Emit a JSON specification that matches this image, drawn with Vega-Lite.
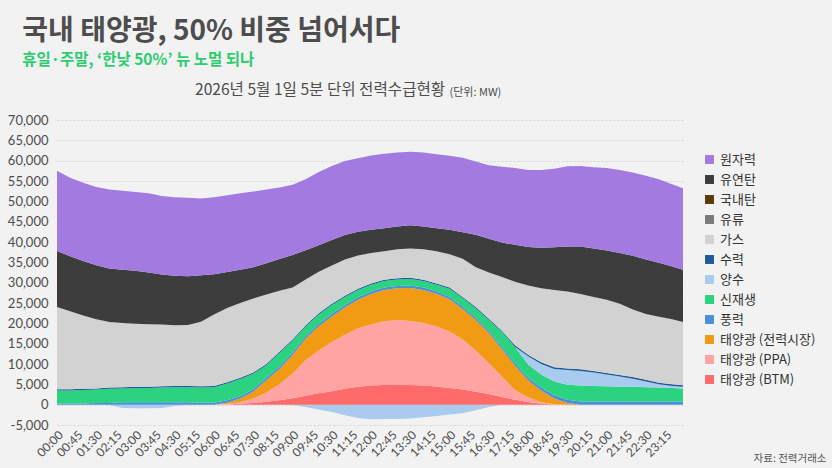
{
  "$schema": "https://vega.github.io/schema/vega-lite/v6.json",
  "background": "#f2f2f2",
  "padding": {"left": 7, "top": 18, "right": 10, "bottom": 10},
  "title": {
    "text": "국내 태양광, 50% 비중 넘어서다",
    "subtitle": "휴일·주말, ‘한낮 50%’ 뉴 노멀 되나",
    "anchor": "start",
    "frame": "bounds",
    "dx": 15,
    "font": "Noto Sans CJK KR",
    "fontSize": 28,
    "fontWeight": "bold",
    "color": "#4d4d4d",
    "subtitleFont": "Noto Sans CJK KR",
    "subtitleFontSize": 15.5,
    "subtitleFontWeight": "bold",
    "subtitleColor": "#2ecc71",
    "subtitlePadding": 7,
    "offset": 14.5
  },
  "datasets": {
    "series": [
      {"k": "psn", "name": "양수", "o": 0},
      {"k": "btm", "name": "태양광 (BTM)", "o": 1},
      {"k": "ppa", "name": "태양광 (PPA)", "o": 2},
      {"k": "mkt", "name": "태양광 (전력시장)", "o": 3},
      {"k": "wind", "name": "풍력", "o": 4},
      {"k": "ren", "name": "신재생", "o": 5},
      {"k": "ps", "name": "양수", "o": 6},
      {"k": "hyd", "name": "수력", "o": 7},
      {"k": "gas", "name": "가스", "o": 8},
      {"k": "oil", "name": "유류", "o": 9},
      {"k": "ant", "name": "국내탄", "o": 10},
      {"k": "coal", "name": "유연탄", "o": 11},
      {"k": "nuc", "name": "원자력", "o": 12}
    ],
    "power": [
      {"m": 0, "btm": 0, "ppa": 0, "mkt": 0, "wind": 300, "ren": 3200, "psn": 0, "ps": 0, "hyd": 300, "gas": 20200, "oil": 0, "ant": 0, "coal": 13800, "nuc": 19700},
      {"m": 30, "btm": 0, "ppa": 0, "mkt": 0, "wind": 300, "ren": 3200, "psn": 0, "ps": 0, "hyd": 300, "gas": 19200, "oil": 0, "ant": 0, "coal": 13500, "nuc": 19300},
      {"m": 60, "btm": 0, "ppa": 0, "mkt": 0, "wind": 300, "ren": 3300, "psn": 0, "ps": 0, "hyd": 300, "gas": 18000, "oil": 0, "ant": 0, "coal": 13400, "nuc": 19300},
      {"m": 90, "btm": 0, "ppa": 0, "mkt": 0, "wind": 400, "ren": 3300, "psn": 0, "ps": 0, "hyd": 300, "gas": 17000, "oil": 0, "ant": 0, "coal": 13300, "nuc": 19200},
      {"m": 120, "btm": 0, "ppa": 0, "mkt": 0, "wind": 400, "ren": 3500, "psn": -100, "ps": 0, "hyd": 300, "gas": 16100, "oil": 0, "ant": 0, "coal": 13200, "nuc": 19400},
      {"m": 150, "btm": 0, "ppa": 0, "mkt": 0, "wind": 600, "ren": 3400, "psn": -800, "ps": 0, "hyd": 300, "gas": 15800, "oil": 0, "ant": 0, "coal": 13100, "nuc": 19400},
      {"m": 180, "btm": 0, "ppa": 0, "mkt": 0, "wind": 600, "ren": 3500, "psn": -900, "ps": 0, "hyd": 300, "gas": 15500, "oil": 0, "ant": 0, "coal": 13000, "nuc": 19400},
      {"m": 210, "btm": 0, "ppa": 0, "mkt": 0, "wind": 600, "ren": 3500, "psn": -900, "ps": 0, "hyd": 300, "gas": 15400, "oil": 0, "ant": 0, "coal": 12700, "nuc": 19500},
      {"m": 240, "btm": 0, "ppa": 0, "mkt": 0, "wind": 600, "ren": 3600, "psn": -800, "ps": 0, "hyd": 300, "gas": 15200, "oil": 0, "ant": 0, "coal": 12300, "nuc": 19300},
      {"m": 270, "btm": 0, "ppa": 0, "mkt": 0, "wind": 600, "ren": 3700, "psn": -300, "ps": 0, "hyd": 300, "gas": 14900, "oil": 0, "ant": 0, "coal": 12200, "nuc": 19300},
      {"m": 300, "btm": 0, "ppa": 0, "mkt": 0, "wind": 600, "ren": 3700, "psn": 0, "ps": 0, "hyd": 300, "gas": 15000, "oil": 0, "ant": 0, "coal": 12000, "nuc": 19300},
      {"m": 330, "btm": 0, "ppa": 0, "mkt": 0, "wind": 500, "ren": 3700, "psn": 0, "ps": 0, "hyd": 300, "gas": 15900, "oil": 0, "ant": 0, "coal": 11400, "nuc": 18900},
      {"m": 360, "btm": 0, "ppa": 0, "mkt": 0, "wind": 500, "ren": 3800, "psn": 0, "ps": 0, "hyd": 300, "gas": 17600, "oil": 0, "ant": 0, "coal": 9900, "nuc": 18900},
      {"m": 390, "btm": 50, "ppa": 150, "mkt": 300, "wind": 600, "ren": 4100, "psn": 0, "ps": 0, "hyd": 300, "gas": 18300, "oil": 0, "ant": 0, "coal": 8800, "nuc": 18900},
      {"m": 420, "btm": 200, "ppa": 400, "mkt": 900, "wind": 600, "ren": 4200, "psn": 0, "ps": 0, "hyd": 300, "gas": 18400, "oil": 0, "ant": 0, "coal": 8200, "nuc": 18800},
      {"m": 450, "btm": 400, "ppa": 1100, "mkt": 1700, "wind": 600, "ren": 3800, "psn": 0, "ps": 0, "hyd": 300, "gas": 18200, "oil": 0, "ant": 0, "coal": 7700, "nuc": 18600},
      {"m": 480, "btm": 700, "ppa": 2300, "mkt": 3000, "wind": 600, "ren": 3100, "psn": 0, "ps": 0, "hyd": 300, "gas": 17100, "oil": 0, "ant": 0, "coal": 7700, "nuc": 18100},
      {"m": 510, "btm": 1100, "ppa": 3900, "mkt": 3800, "wind": 600, "ren": 3300, "psn": 0, "ps": 0, "hyd": 300, "gas": 15000, "oil": 0, "ant": 0, "coal": 7800, "nuc": 17600},
      {"m": 540, "btm": 1600, "ppa": 6000, "mkt": 4600, "wind": 600, "ren": 2900, "psn": -100, "ps": 0, "hyd": 300, "gas": 12800, "oil": 0, "ant": 0, "coal": 8000, "nuc": 17300},
      {"m": 570, "btm": 2200, "ppa": 8800, "mkt": 5300, "wind": 600, "ren": 2300, "psn": -600, "ps": 0, "hyd": 300, "gas": 11300, "oil": 0, "ant": 0, "coal": 7200, "nuc": 17400},
      {"m": 600, "btm": 2800, "ppa": 10500, "mkt": 6000, "wind": 600, "ren": 2300, "psn": -1200, "ps": 0, "hyd": 300, "gas": 10200, "oil": 0, "ant": 0, "coal": 6500, "nuc": 18000},
      {"m": 630, "btm": 3300, "ppa": 12100, "mkt": 6300, "wind": 600, "ren": 2200, "psn": -1800, "ps": 0, "hyd": 300, "gas": 9400, "oil": 0, "ant": 0, "coal": 6300, "nuc": 18200},
      {"m": 660, "btm": 3900, "ppa": 13300, "mkt": 6700, "wind": 600, "ren": 2000, "psn": -2600, "ps": 0, "hyd": 300, "gas": 8900, "oil": 0, "ant": 0, "coal": 6000, "nuc": 18200},
      {"m": 690, "btm": 4400, "ppa": 14400, "mkt": 7000, "wind": 600, "ren": 1800, "psn": -3300, "ps": 0, "hyd": 300, "gas": 8200, "oil": 0, "ant": 0, "coal": 5800, "nuc": 18100},
      {"m": 720, "btm": 4700, "ppa": 15000, "mkt": 7500, "wind": 600, "ren": 1700, "psn": -3600, "ps": 0, "hyd": 300, "gas": 7500, "oil": 0, "ant": 0, "coal": 5700, "nuc": 18300},
      {"m": 750, "btm": 4850, "ppa": 15650, "mkt": 7700, "wind": 600, "ren": 1600, "psn": -3500, "ps": 0, "hyd": 300, "gas": 7000, "oil": 0, "ant": 0, "coal": 5700, "nuc": 18300},
      {"m": 780, "btm": 4900, "ppa": 15900, "mkt": 7800, "wind": 600, "ren": 1600, "psn": -3500, "ps": 0, "hyd": 300, "gas": 7100, "oil": 0, "ant": 0, "coal": 5600, "nuc": 18200},
      {"m": 810, "btm": 4850, "ppa": 15750, "mkt": 8100, "wind": 600, "ren": 1600, "psn": -3400, "ps": 0, "hyd": 300, "gas": 7200, "oil": 0, "ant": 0, "coal": 5700, "nuc": 18100},
      {"m": 840, "btm": 4700, "ppa": 15400, "mkt": 8100, "wind": 600, "ren": 1600, "psn": -3100, "ps": 0, "hyd": 300, "gas": 7500, "oil": 0, "ant": 0, "coal": 5600, "nuc": 18200},
      {"m": 870, "btm": 4450, "ppa": 14850, "mkt": 8000, "wind": 600, "ren": 1600, "psn": -2800, "ps": 0, "hyd": 300, "gas": 7900, "oil": 0, "ant": 0, "coal": 5700, "nuc": 18200},
      {"m": 900, "btm": 4100, "ppa": 13900, "mkt": 7900, "wind": 600, "ren": 2000, "psn": -2400, "ps": 0, "hyd": 300, "gas": 8200, "oil": 0, "ant": 0, "coal": 6000, "nuc": 18200},
      {"m": 930, "btm": 3700, "ppa": 12300, "mkt": 7500, "wind": 600, "ren": 2100, "psn": -2100, "ps": 0, "hyd": 300, "gas": 9400, "oil": 0, "ant": 0, "coal": 6500, "nuc": 18300},
      {"m": 960, "btm": 3200, "ppa": 10100, "mkt": 7500, "wind": 600, "ren": 2300, "psn": -1400, "ps": 0, "hyd": 300, "gas": 9800, "oil": 0, "ant": 0, "coal": 8000, "nuc": 18000},
      {"m": 990, "btm": 2600, "ppa": 7600, "mkt": 7400, "wind": 600, "ren": 2600, "psn": -600, "ps": 0, "hyd": 300, "gas": 11400, "oil": 0, "ant": 0, "coal": 8300, "nuc": 18100},
      {"m": 1020, "btm": 1900, "ppa": 5000, "mkt": 6700, "wind": 600, "ren": 3700, "psn": 0, "ps": 0, "hyd": 300, "gas": 13200, "oil": 0, "ant": 0, "coal": 8500, "nuc": 18600},
      {"m": 1050, "btm": 1200, "ppa": 2400, "mkt": 6000, "wind": 600, "ren": 4000, "psn": 0, "ps": 0, "hyd": 400, "gas": 15600, "oil": 0, "ant": 0, "coal": 9100, "nuc": 18900},
      {"m": 1080, "btm": 650, "ppa": 1150, "mkt": 4200, "wind": 600, "ren": 3300, "psn": 0, "ps": 2000, "hyd": 400, "gas": 17000, "oil": 0, "ant": 0, "coal": 9500, "nuc": 18900},
      {"m": 1110, "btm": 250, "ppa": 350, "mkt": 2900, "wind": 700, "ren": 3200, "psn": 0, "ps": 2600, "hyd": 400, "gas": 18200, "oil": 0, "ant": 0, "coal": 10000, "nuc": 19100},
      {"m": 1140, "btm": 50, "ppa": 50, "mkt": 1400, "wind": 800, "ren": 3400, "psn": 0, "ps": 3100, "hyd": 400, "gas": 19000, "oil": 0, "ant": 0, "coal": 10500, "nuc": 19300},
      {"m": 1170, "btm": 0, "ppa": 0, "mkt": 400, "wind": 800, "ren": 3700, "psn": 0, "ps": 3600, "hyd": 400, "gas": 18900, "oil": 0, "ant": 0, "coal": 11100, "nuc": 19700},
      {"m": 1200, "btm": 0, "ppa": 0, "mkt": 0, "wind": 800, "ren": 3900, "psn": 0, "ps": 3600, "hyd": 400, "gas": 18500, "oil": 0, "ant": 0, "coal": 11700, "nuc": 19800},
      {"m": 1230, "btm": 0, "ppa": 0, "mkt": 0, "wind": 800, "ren": 3800, "psn": 0, "ps": 3300, "hyd": 400, "gas": 18200, "oil": 0, "ant": 0, "coal": 11900, "nuc": 20000},
      {"m": 1260, "btm": 0, "ppa": 0, "mkt": 0, "wind": 800, "ren": 3700, "psn": 0, "ps": 2900, "hyd": 400, "gas": 18000, "oil": 0, "ant": 0, "coal": 12100, "nuc": 20300},
      {"m": 1290, "btm": 0, "ppa": 0, "mkt": 0, "wind": 800, "ren": 3600, "psn": 0, "ps": 2500, "hyd": 400, "gas": 17500, "oil": 0, "ant": 0, "coal": 12500, "nuc": 20400},
      {"m": 1320, "btm": 0, "ppa": 0, "mkt": 0, "wind": 800, "ren": 3600, "psn": 0, "ps": 2000, "hyd": 400, "gas": 16600, "oil": 0, "ant": 0, "coal": 13200, "nuc": 20500},
      {"m": 1350, "btm": 0, "ppa": 0, "mkt": 0, "wind": 800, "ren": 3500, "psn": 0, "ps": 1400, "hyd": 400, "gas": 16200, "oil": 0, "ant": 0, "coal": 13400, "nuc": 20600},
      {"m": 1380, "btm": 0, "ppa": 0, "mkt": 0, "wind": 800, "ren": 3400, "psn": 0, "ps": 800, "hyd": 400, "gas": 16200, "oil": 0, "ant": 0, "coal": 13300, "nuc": 20500},
      {"m": 1410, "btm": 0, "ppa": 0, "mkt": 0, "wind": 800, "ren": 3300, "psn": 0, "ps": 500, "hyd": 400, "gas": 16000, "oil": 0, "ant": 0, "coal": 13000, "nuc": 20200},
      {"m": 1435, "btm": 0, "ppa": 0, "mkt": 0, "wind": 800, "ren": 3200, "psn": 0, "ps": 400, "hyd": 400, "gas": 15500, "oil": 0, "ant": 0, "coal": 12900, "nuc": 20000}
    ]
  },
  "vconcat": [
    {
      "width": 626,
      "height": 305,
      "title": {
        "text": "2026년 5월 1일 5분 단위 전력수급현황",
        "anchor": "start",
        "frame": "group",
        "dx": 138,
        "font": "Noto Sans CJK KR",
        "fontSize": 15.6,
        "fontWeight": "normal",
        "color": "#4d4d4d",
        "offset": -13
      },
      "data": {"name": "power"},
      "transform": [
        {"fold": ["psn", "btm", "ppa", "mkt", "wind", "ren", "ps", "hyd", "gas", "oil", "ant", "coal", "nuc"], "as": ["k", "value"]},
        {"lookup": "k", "from": {"data": {"name": "series"}, "key": "k", "fields": ["name", "o"]}}
      ],
      "mark": {"type": "area", "interpolate": "linear"},
      "encoding": {
        "x": {
          "field": "m",
          "type": "quantitative",
          "scale": {"domain": [0, 1435], "nice": false, "zero": false},
          "axis": {
            "values": [0, 45, 90, 135, 180, 225, 270, 315, 360, 405, 450, 495, 540, 585, 630, 675, 720, 765, 810, 855, 900, 945, 990, 1035, 1080, 1125, 1170, 1215, 1260, 1305, 1350, 1395],
            "labelExpr": "pad(toString(floor(datum.value / 60)), 2, '0', 'left') + ':' + pad(toString(datum.value % 60), 2, '0', 'left')",
            "labelAngle": -45,
            "labelFont": "Lato",
            "labelFontSize": 12,
            "labelColor": "#4d4d4d",
            "labelPadding": 4,
            "labelFlush": false,
            "labelOverlap": false,
            "grid": false,
            "ticks": false,
            "domain": false,
            "title": "자료: 전력거래소",
            "titleFont": "Noto Sans CJK KR",
            "titleFontSize": 10.5,
            "titleFontWeight": "normal",
            "titleColor": "#555555",
            "titleAlign": "right",
            "titleBaseline": "alphabetic",
            "titleX": 769,
            "titleY": 36
          }
        },
        "y": {
          "field": "value",
          "type": "quantitative",
          "stack": "zero",
          "scale": {"domain": [-5000, 70000], "nice": false},
          "axis": {
            "values": [-5000, 0, 5000, 10000, 15000, 20000, 25000, 30000, 35000, 40000, 45000, 50000, 55000, 60000, 65000, 70000],
            "labelExpr": "replace(format(datum.value, ','), '−', '-')",
            "labelFont": "Lato",
            "labelFontSize": 13,
            "labelColor": "#4d4d4d",
            "labelPadding": 9,
            "ticks": false,
            "domain": false,
            "grid": true,
            "gridColor": "#d4d4d4",
            "gridDash": [2, 2],
            "title": "(단위: MW)",
            "titleFont": "Noto Sans CJK KR",
            "titleFontSize": 11,
            "titleFontWeight": "normal",
            "titleColor": "#4d4d4d",
            "titleAngle": 0,
            "titleAlign": "left",
            "titleBaseline": "alphabetic",
            "titleX": 392,
            "titleY": -25
          }
        },
        "color": {
          "field": "name",
          "type": "nominal",
          "scale": {
            "domain": ["원자력", "유연탄", "국내탄", "유류", "가스", "수력", "양수", "신재생", "풍력", "태양광 (전력시장)", "태양광 (PPA)", "태양광 (BTM)"],
            "range": ["#a37be0", "#3d3d3d", "#5a3a0a", "#7a7a7a", "#d2d2d2", "#1f5b99", "#a8cbee", "#2bd27f", "#4a90d9", "#f09b13", "#ffa3a3", "#ff6a6a"]
          },
          "legend": {
            "orient": "none",
            "legendX": 646,
            "legendY": 33,
            "title": null,
            "symbolType": "square",
            "symbolSize": 80,
            "symbolStrokeWidth": 0,
            "labelFont": "Noto Sans CJK KR",
            "labelFontSize": 13,
            "labelColor": "#333333",
            "labelOffset": 4,
            "rowPadding": 6
          }
        },
        "detail": {"field": "k"},
        "order": {"field": "o", "type": "quantitative"}
      }
    }
  ],
  "config": {
    "view": {"stroke": null},
    "concat": {"spacing": 0}
  }
}
